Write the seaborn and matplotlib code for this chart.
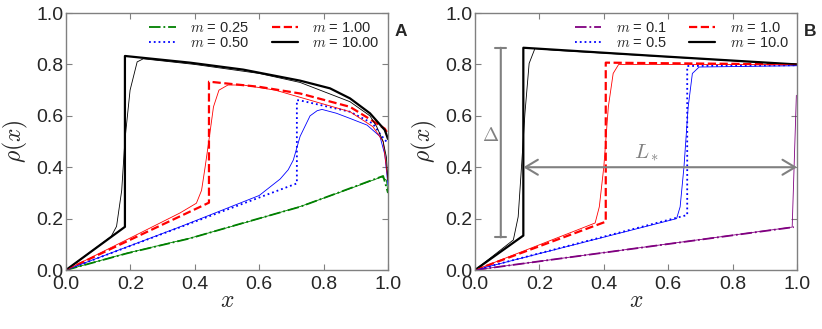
import matplotlib
matplotlib.use("Agg")
import matplotlib.pyplot as plt
import seaborn as sns

# ---------------- Panel A data ----------------
a_m_labels = ["0.25", "0.50", "1.00", "10.00"]

a_green_x = [0, 0.19, 0.385, 0.55, 0.727, 0.85, 0.985, 1.0]
a_green_y = [0, 0.065, 0.123, 0.183, 0.246, 0.303, 0.366, 0.30]
a_green_sim_x = [0, 0.19, 0.385, 0.55, 0.727, 0.85, 0.98, 0.995, 1.0]
a_green_sim_y = [0, 0.066, 0.124, 0.182, 0.247, 0.302, 0.362, 0.35, 0.30]

a_blue_x = [0, 0.717, 0.717, 0.727, 0.882, 0.953, 0.975, 0.995]
a_blue_y = [0, 0.337, 0.661, 0.66, 0.616, 0.57, 0.53, 0.50]
a_blue_sim_x = [0, 0.354, 0.60, 0.665, 0.69, 0.706, 0.727, 0.758, 0.78, 0.795,
                0.84, 0.882, 0.935, 0.975, 0.99, 1.0]
a_blue_sim_y = [0, 0.168, 0.29, 0.354, 0.39, 0.428, 0.52, 0.60, 0.62, 0.625,
                0.61, 0.59, 0.564, 0.52, 0.45, 0.33]

a_red_x = [0, 0.444, 0.444, 0.6, 0.727, 0.882, 0.953, 0.99, 1.0]
a_red_y = [0, 0.262, 0.733, 0.713, 0.687, 0.635, 0.58, 0.55, 0.53]
a_red_sim_x = [0, 0.2, 0.354, 0.405, 0.421, 0.432, 0.444, 0.458, 0.475, 0.503,
               0.55, 0.65, 0.758, 0.882, 0.953, 0.985, 1.0]
a_red_sim_y = [0, 0.125, 0.222, 0.26, 0.31, 0.40, 0.506, 0.635, 0.70, 0.72,
               0.72, 0.70, 0.661, 0.616, 0.558, 0.50, 0.35]

a_black_x = [0, 0.183, 0.183, 0.385, 0.55, 0.727, 0.82, 0.882, 0.944, 0.99, 1.0]
a_black_y = [0, 0.168, 0.833, 0.807, 0.78, 0.737, 0.707, 0.668, 0.61, 0.545, 0.51]
a_black_sim_x = [0, 0.14, 0.157, 0.173, 0.183, 0.199, 0.221, 0.24, 0.4, 0.6,
                 0.727, 0.882, 0.944, 0.965, 0.985, 0.995, 1.0]
a_black_sim_y = [0, 0.13, 0.17, 0.31, 0.506, 0.70, 0.81, 0.822, 0.80, 0.765,
                 0.73, 0.655, 0.60, 0.558, 0.50, 0.44, 0.35]

# ---------------- Panel B data ----------------
b_m_labels = ["0.1", "0.5", "1.0", "10.0"]

b_purple_x = [0, 0.99]
b_purple_y = [0, 0.167]
b_purple_sim_x = [0, 0.985, 0.998]
b_purple_sim_y = [0, 0.167, 0.68]

b_blue_x = [0, 0.659, 0.659, 1.0]
b_blue_y = [0, 0.214, 0.794, 0.797]
b_blue_sim_x = [0, 0.626, 0.637, 0.649, 0.662, 0.675, 0.696, 1.0]
b_blue_sim_y = [0, 0.20, 0.246, 0.402, 0.635, 0.765, 0.79, 0.795]

b_red_x = [0, 0.406, 0.406, 1.0]
b_red_y = [0, 0.188, 0.807, 0.80]
b_red_sim_x = [0, 0.373, 0.386, 0.40, 0.414, 0.429, 0.446, 1.0]
b_red_sim_y = [0, 0.183, 0.246, 0.402, 0.635, 0.765, 0.80, 0.80]

b_black_x = [0, 0.15, 0.15, 0.575, 1.0]
b_black_y = [0, 0.134, 0.865, 0.832, 0.80]
b_black_sim_x = [0, 0.119, 0.134, 0.145, 0.155, 0.168, 0.186, 0.25, 1.0]
b_black_sim_y = [0, 0.117, 0.207, 0.415, 0.61, 0.804, 0.862, 0.855, 0.80]

ticks = [0.0, 0.2, 0.4, 0.6, 0.8, 1.0]
tick_labels = ["0.0", "0.2", "0.4", "0.6", "0.8", "1.0"]

sns.set_style("white")
plt.rcParams["font.family"] = ["Liberation Sans", "DejaVu Sans"]
plt.rcParams["mathtext.fontset"] = "cm"

fig = plt.figure(figsize=(8.22, 3.29), dpi=100)
axA = fig.add_axes([0.0803, 0.1793, 0.3917, 0.781])
axB = fig.add_axes([0.5779, 0.1793, 0.3917, 0.781])

THICK = 1.6
MID = 1.3
THIN = 0.6


def draw(ax, x, y, color, ls, lw, label=None):
    sns.lineplot(x=x, y=y, ax=ax, color=color, linestyle=ls, linewidth=lw,
                 estimator=None, sort=False, label=label)


# Panel A
draw(axA, a_green_x, a_green_y, "green", "-.", MID, r"$m$ = " + a_m_labels[0])
draw(axA, a_blue_x, a_blue_y, "blue", ":", MID, r"$m$ = " + a_m_labels[1])
draw(axA, a_red_x, a_red_y, "red", "--", THICK, r"$m$ = " + a_m_labels[2])
draw(axA, a_black_x, a_black_y, "black", "-", THICK, r"$m$ = " + a_m_labels[3])
draw(axA, a_green_sim_x, a_green_sim_y, "green", "-", THIN)
draw(axA, a_blue_sim_x, a_blue_sim_y, "blue", "-", THIN)
draw(axA, a_red_sim_x, a_red_sim_y, "red", "-", THIN)
draw(axA, a_black_sim_x, a_black_sim_y, "black", "-", THIN)

# Panel B
draw(axB, b_purple_x, b_purple_y, "purple", "-.", MID, r"$m$ = " + b_m_labels[0])
draw(axB, b_blue_x, b_blue_y, "blue", ":", MID, r"$m$ = " + b_m_labels[1])
draw(axB, b_red_x, b_red_y, "red", "--", THICK, r"$m$ = " + b_m_labels[2])
draw(axB, b_black_x, b_black_y, "black", "-", THICK, r"$m$ = " + b_m_labels[3])
draw(axB, b_purple_sim_x, b_purple_sim_y, "purple", "-", THIN)
draw(axB, b_blue_sim_x, b_blue_sim_y, "blue", "-", THIN)
draw(axB, b_red_sim_x, b_red_sim_y, "red", "-", THIN)
draw(axB, b_black_sim_x, b_black_sim_y, "black", "-", THIN)

# Annotations in B
axB.annotate("", xy=(0.08, 0.865), xytext=(0.08, 0.127),
             arrowprops=dict(arrowstyle="|-|,widthA=0.4,widthB=0.4",
                             color="gray", lw=1.5, shrinkA=0, shrinkB=0))
axB.text(0.047, 0.52, r"$\Delta$", color="gray", fontsize=14,
         ha="center", va="center")
axB.annotate("", xy=(0.15, 0.40), xytext=(1.0, 0.40),
             arrowprops=dict(arrowstyle="<->,head_length=0.5,head_width=0.3",
                             color="gray", lw=1.5, shrinkA=0, shrinkB=0,
                             mutation_scale=18))
axB.text(0.533, 0.455, r"$L_*$", color="gray", fontsize=15,
         ha="center", va="center")

for ax, tag in [(axA, "A"), (axB, "B")]:
    ax.set_xlim(0, 1)
    ax.set_ylim(0, 1)
    ax.set_xticks(ticks)
    ax.set_xticklabels(tick_labels)
    ax.set_yticks(ticks)
    ax.set_yticklabels(tick_labels)
    ax.tick_params(direction="in", length=4, width=0.8, color="gray",
                   top=True, right=True, bottom=True, left=True,
                   labelsize=14, pad=2)
    ax.tick_params(axis="x", pad=4)
    for sp in ax.spines.values():
        sp.set_color("gray")
        sp.set_linewidth(1.0)
    ax.set_xlabel(r"$x$", fontsize=17, labelpad=-2)
    ax.set_ylabel(r"$\rho(x)$", fontsize=17, labelpad=4)
    handles, labels = ax.get_legend_handles_labels()
    ax.legend(handles, labels, loc="upper right", ncol=2, frameon=False,
              fontsize=10.5, handlelength=1.8, handletextpad=1.0,
              columnspacing=1.5, labelspacing=0.05, borderaxespad=0.15)
    ax.text(1.02, 0.93, tag, transform=ax.transAxes, fontsize=12.5,
            fontweight="bold", ha="left", va="center")

fig.savefig("out.png", dpi=100)
